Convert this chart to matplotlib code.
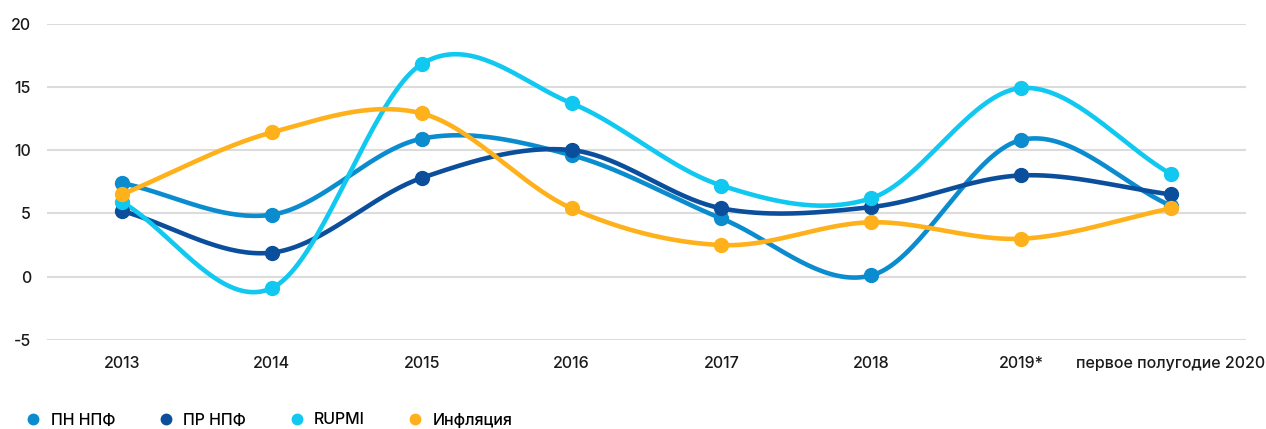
import matplotlib.pyplot as plt
import numpy as np
from matplotlib.lines import Line2D

plt.rcParams['font.family'] = ['Inter', 'DejaVu Sans']
plt.rcParams['font.size'] = 11
plt.rcParams['font.weight'] = 'medium'
plt.rcParams['axes.unicode_minus'] = False

# --- data ---
categories = ['2013', '2014', '2015', '2016', '2017', '2018', '2019*',
              'первое полугодие 2020']
pn_npf = [7.4, 4.9, 10.9, 9.6, 4.6, 0.1, 10.8, 5.6]
pr_npf = [5.2, 1.9, 7.8, 10.0, 5.4, 5.5, 8.0, 6.5]
rupmi = [5.9, -0.9, 16.8, 13.7, 7.2, 6.2, 14.9, 8.1]
inflation = [6.5, 11.4, 12.9, 5.4, 2.5, 4.3, 3.0, 5.4]

series = [
    ('ПН НПФ', pn_npf, '#0a8ccf'),
    ('ПР НПФ', pr_npf, '#0b4f9c'),
    ('RUPMI', rupmi, '#11c8f0'),
    ('Инфляция', inflation, '#ffb11b'),
]


def smooth(x, y, n=40):
    """Catmull-Rom curve through the points (drawing only)."""
    x = np.asarray(x, float)
    y = np.asarray(y, float)
    m = np.gradient(y, x)          # central differences, one-sided at ends
    xs, ys = [], []
    for i in range(len(x) - 1):
        t = np.linspace(0, 1, n, endpoint=(i == len(x) - 2))
        h = x[i + 1] - x[i]
        h00 = 2 * t**3 - 3 * t**2 + 1
        h10 = t**3 - 2 * t**2 + t
        h01 = -2 * t**3 + 3 * t**2
        h11 = t**3 - t**2
        xs.append(x[i] + t * h)
        ys.append(h00 * y[i] + h10 * h * m[i] + h01 * y[i + 1] + h11 * h * m[i + 1])
    return np.concatenate(xs), np.concatenate(ys)


fig = plt.figure(figsize=(12.66, 4.29), dpi=100)
ax = fig.add_axes([47 / 1266, 1 - 340 / 429, (1246 - 47) / 1266, (340 - 23.5) / 429])

x = np.arange(len(categories))
for name, vals, color in series:
    xs, ys = smooth(x, vals)
    ax.plot(xs, ys, color=color, linewidth=3.3, solid_capstyle='round', zorder=3)
    ax.plot(x, vals, 'o', color=color, markersize=10, zorder=4)

ax.set_xlim(-0.5, 7.5)
ax.set_ylim(-5, 20)
ax.set_yticks([-5, 0, 5, 10, 15, 20])
ax.set_xticks(x)
ax.set_xticklabels(categories)
ax.tick_params(length=0, pad=11.5, labelsize=11.5, colors='#1a1a1a')
ax.grid(axis='y', color='#dcdcdc', linewidth=1.5)
ax.set_axisbelow(True)
for s in ax.spines.values():
    s.set_visible(False)

handles = [Line2D([], [], marker='o', linestyle='none', color=c, markersize=7.5)
           for _, _, c in series]
fig.legend(handles, [s[0] for s in series], loc='center left',
           bbox_to_anchor=(27 / 1266, 1 - 420 / 429), ncol=4, frameon=False,
           handlelength=0.8, handletextpad=0.7, columnspacing=2.75,
           fontsize=11.5, borderaxespad=0, borderpad=0)

fig.savefig('out.png', dpi=100)
